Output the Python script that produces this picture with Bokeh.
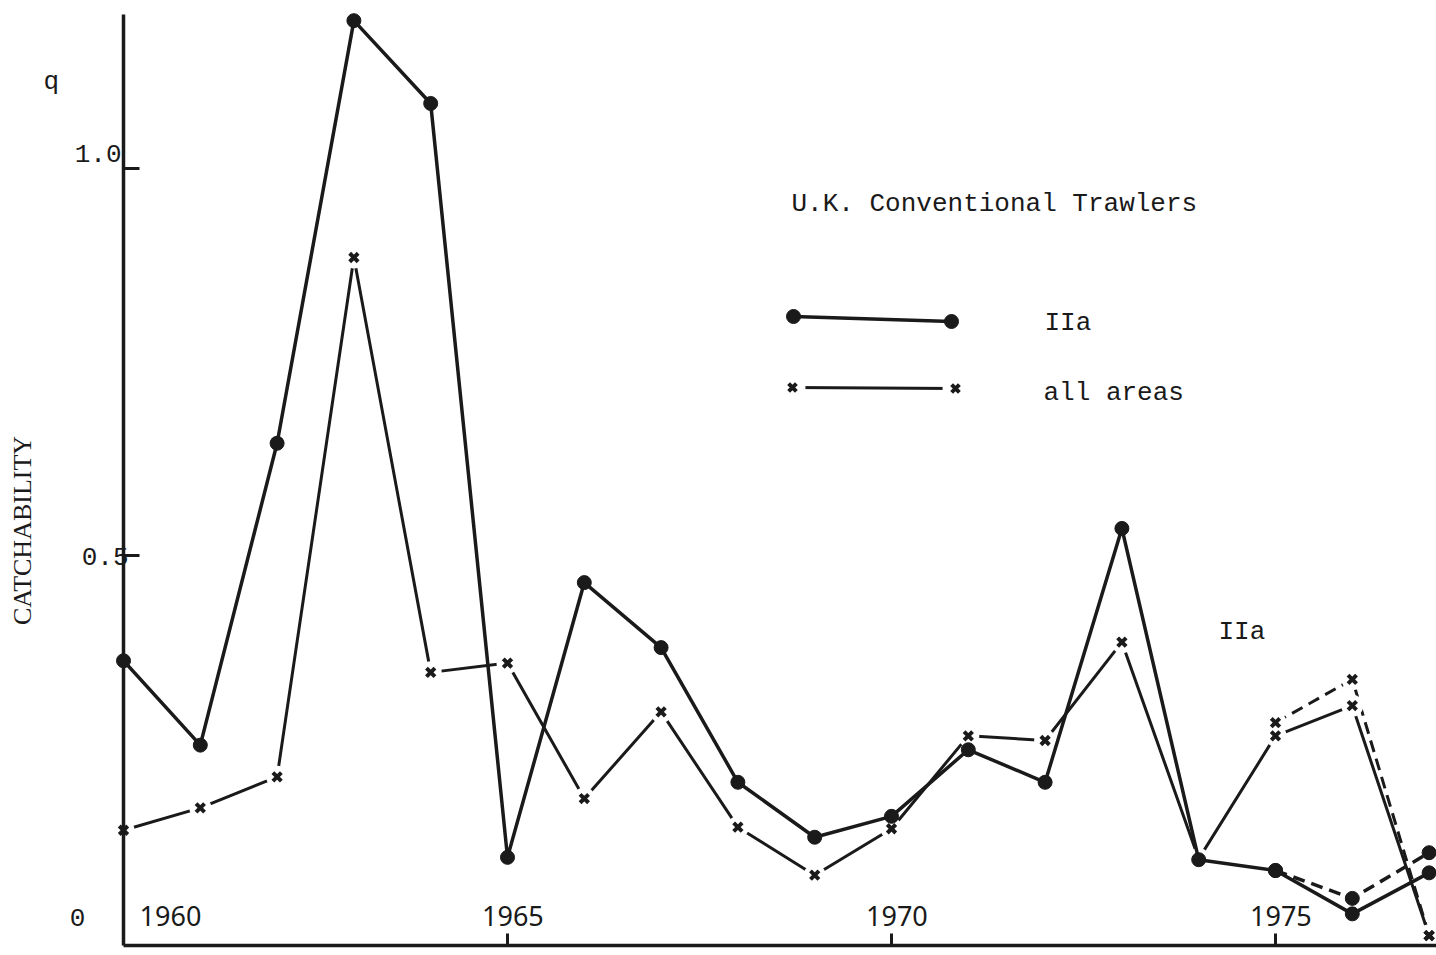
import math
from bokeh.plotting import figure
from bokeh.models import FixedTicker, Range1d
from bokeh.core.properties import value
from bokeh.embed import file_html
from bokeh.resources import INLINE

# ---- data ----
years = list(range(1960, 1978))
iia = [0.364, 0.255, 0.645, 1.191, 1.084, 0.110, 0.465, 0.381, 0.207,
       0.136, 0.163, 0.249, 0.207, 0.535, 0.107, 0.093, 0.037, 0.090]
all_areas = [0.145, 0.174, 0.214, 0.885, 0.349, 0.361, 0.186, 0.298, 0.149,
             0.087, 0.147, 0.267, 0.261, 0.388, 0.108, 0.267, 0.306, 0.009]
alt_years = [1975, 1976, 1977]
iia_alt = [0.093, 0.057, 0.116]
all_alt = [0.284, 0.340, 0.009]
x_ticks = [1965, 1970, 1975]
x_tick_labels = ["1960", "1965", "1970", "1975"]
y_ticks = [0.5, 1.0]
y_tick_labels = ["0.5", "1.0"]

INK = "#1a1a1a"
MONO = "Liberation Mono"

# screen -> data helpers for decorations (pixel layout of the page)
def dx(px):
    return 1960 + (px - 123) / 76.8

def dy(py):
    return (942 - py) / 774

p = figure(width=1436, height=955,
           x_range=Range1d(dx(123), dx(1436)),
           y_range=Range1d(dy(945), dy(14)),
           output_backend="svg", toolbar_location=None,
           min_border_left=123, min_border_right=0,
           min_border_top=14, min_border_bottom=10)
p.grid.visible = False
p.outline_line_color = None
p.background_fill_color = "white"
p.border_fill_color = "white"

for ax in (p.xaxis[0], p.yaxis[0]):
    ax.axis_line_color = INK
    ax.axis_line_width = 3.5
    ax.major_tick_line_color = INK
    ax.major_tick_line_width = 3
    ax.major_tick_out = 0
    ax.minor_tick_line_color = None
    ax.major_label_text_font_size = "0px"
    ax.major_label_standoff = 0
p.xaxis.ticker = FixedTicker(ticks=x_ticks)
p.xaxis.major_tick_in = 12
p.xaxis.major_label_overrides = {t: "" for t in x_ticks}
p.yaxis.ticker = FixedTicker(ticks=y_ticks)
p.yaxis.major_tick_in = 16
p.yaxis.major_label_overrides = {t: "" for t in y_ticks}

# ---- all areas series ----
p.line(years, all_areas, line_color=INK, line_width=3)
p.line(alt_years, all_alt, line_color=INK, line_width=3, line_dash="12 7")
p.scatter(years + alt_years, all_areas + all_alt, marker="circle", size=22,
          fill_color="white", line_color=None)
p.scatter(years + alt_years, all_areas + all_alt, marker="x", size=12,
          line_color=INK, line_width=4, level="overlay")

# ---- IIa series ----
p.line(years, iia, line_color=INK, line_width=3.5)
p.line(alt_years, iia_alt, line_color=INK, line_width=3.5, line_dash="12 7")
p.scatter(years + alt_years, iia + iia_alt, marker="circle", size=14,
          fill_color=INK, line_color=INK, level="overlay")

# ---- x tick labels (drawn above the axis, inside the frame) ----
p.text(x=[dx(170)] + [t + 0.07 for t in x_ticks], y=[dy(915)] * 4,
       text=x_tick_labels, text_font=value("Noto Sans"),
       text_font_size="27px", text_color=INK,
       text_align="center", text_baseline="middle")

# ---- legend ----
p.line([dx(793), dx(951)], [dy(316), dy(321)], line_color=INK, line_width=3.5)
p.scatter([dx(793), dx(951)], [dy(316), dy(321)], marker="circle", size=14,
          fill_color=INK, line_color=INK)
p.line([dx(792), dx(955)], [dy(387), dy(388)], line_color=INK, line_width=3)
p.scatter([dx(792), dx(955)], [dy(387), dy(388)], marker="circle", size=26,
          fill_color="white", line_color=None)
p.scatter([dx(792), dx(955)], [dy(387), dy(388)], marker="x", size=11,
          line_color=INK, line_width=4)

def lab(x, y, text, font=MONO, size="26px", align="left", baseline="alphabetic", angle=0.0):
    # text glyph at overlay level so that texts in the side border are not clipped
    p.text(x=[x], y=[y], text=[text], text_font=value(font), text_font_size=size,
           text_color=INK, text_align=align, text_baseline=baseline,
           angle=angle, level="overlay")

lab(dx(791), dy(203), "U.K. Conventional Trawlers")
lab(dx(1044), dy(322), "IIa")
lab(dx(1043), dy(392), "all areas")
lab(dx(1218), dy(631), "IIa")

# axis texts
lab(dx(43), dy(81), "q")
lab(dx(121), dy(153), y_tick_labels[1], align="right", baseline="middle")
lab(dx(128), dy(556), y_tick_labels[0], align="right", baseline="middle")
lab(dx(77), dy(917), "0", align="center", baseline="middle")
lab(dx(22), dy(530), "CATCHABILITY", font="Liberation Serif", size="26px",
    align="center", baseline="middle", angle=math.pi / 2)

open("out.html", "w").write(file_html(p, INLINE))
